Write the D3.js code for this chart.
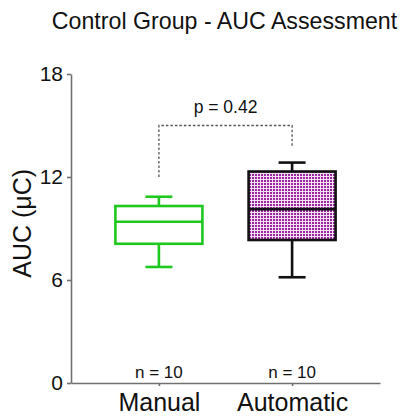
<!DOCTYPE html>
<html>
<head>
<meta charset="utf-8">
<script src="https://cdn.jsdelivr.net/npm/d3@7"></script>
<style>
  html, body { margin: 0; padding: 0; background: #fff; }
  svg { display: block; font-family: Arial, "Liberation Sans", sans-serif; }
</style>
</head>
<body>
<svg id="chart" width="403" height="417"></svg>
<script>
// Groups and their five-number summaries (min, Q1, median, Q3, max), in µC
const groups = ["Manual", "Automatic"];
const minVals = [6.76, 6.16];
const q1Vals = [8.11, 8.33];
const medianVals = [9.39, 10.13];
const q3Vals = [10.31, 12.32];
const maxVals = [10.85, 12.84];
const nLabels = ["n = 10", "n = 10"];
const yTicks = [0, 6, 12, 18];
const pLabel = "p = 0.42";
// comparison bracket: top level and the two leg ends
const bracketTop = 15.0;
const bracketLegs = [12.0, 13.76];
const pLabelY = 15.75;

const svg = d3.select("#chart");
const W = 403, H = 417;
const margin = { left: 71, right: 23, top: 74, bottom: 34 };

const y = d3.scaleLinear().domain([0, 18]).range([H - margin.bottom, margin.top]);
const x = d3.scalePoint().domain(groups).range([margin.left, W - margin.right]).padding(0.66);

// checkered fill for the second box
const defs = svg.append("defs");
const pat = defs.append("pattern")
  .attr("id", "checker").attr("patternUnits", "userSpaceOnUse")
  .attr("width", 3).attr("height", 3);
pat.append("rect").attr("width", 3).attr("height", 3).attr("fill", "#f4e2f4");
pat.append("rect").attr("width", 2).attr("height", 2).attr("fill", "#9a269f");

// title
svg.append("text")
  .attr("x", 224.5).attr("y", 29)
  .attr("text-anchor", "middle")
  .attr("font-size", 23.2).attr("fill", "#111")
  .text("Control Group - AUC Assessment");

// y axis
const yAxis = svg.append("g")
  .attr("transform", `translate(${margin.left},0)`)
  .call(d3.axisLeft(y).tickValues(yTicks).tickSize(4).tickSizeOuter(0).tickPadding(4));
yAxis.selectAll("path, line").attr("stroke", "#707070").attr("stroke-width", 1.6);
yAxis.selectAll("text").attr("font-size", 21).attr("fill", "#111").attr("font-family", "Arial, 'Liberation Sans', sans-serif");

// x axis
const xAxis = svg.append("g")
  .attr("transform", `translate(0,${y(0)})`)
  .call(d3.axisBottom(x).tickSize(3).tickSizeOuter(0).tickPadding(7));
xAxis.selectAll("path, line").attr("stroke", "#707070").attr("stroke-width", 1.6);
xAxis.selectAll("text").attr("font-size", 25).attr("fill", "#111").attr("font-family", "Arial, 'Liberation Sans', sans-serif");

// y axis title
svg.append("text")
  .attr("transform", `translate(31,${y(9.3)}) rotate(-90)`)
  .attr("text-anchor", "middle")
  .attr("font-size", 25).attr("fill", "#111")
  .text("AUC (\u03BCC)");

// box plots
const boxW = 87, capW = 27;
const strokes = ["#1ec81e", "#111"];
const fills = ["#fff", "url(#checker)"];

groups.forEach((g, i) => {
  const cx = x(g);
  const grp = svg.append("g");
  const sc = strokes[i];
  const sw = 2.6;
  // whiskers
  grp.append("line").attr("x1", cx).attr("x2", cx).attr("y1", y(maxVals[i])).attr("y2", y(q3Vals[i]))
    .attr("stroke", sc).attr("stroke-width", sw);
  grp.append("line").attr("x1", cx).attr("x2", cx).attr("y1", y(q1Vals[i])).attr("y2", y(minVals[i]))
    .attr("stroke", sc).attr("stroke-width", sw);
  // caps
  [maxVals[i], minVals[i]].forEach(v => {
    grp.append("line").attr("x1", cx - capW / 2).attr("x2", cx + capW / 2)
      .attr("y1", y(v)).attr("y2", y(v))
      .attr("stroke", sc).attr("stroke-width", sw);
  });
  // box
  grp.append("rect")
    .attr("x", cx - boxW / 2).attr("width", boxW)
    .attr("y", y(q3Vals[i])).attr("height", y(q1Vals[i]) - y(q3Vals[i]))
    .attr("fill", fills[i]).attr("stroke", sc).attr("stroke-width", sw);
  // median
  grp.append("line").attr("x1", cx - boxW / 2).attr("x2", cx + boxW / 2)
    .attr("y1", y(medianVals[i])).attr("y2", y(medianVals[i]))
    .attr("stroke", sc).attr("stroke-width", sw);
  // sample size
  svg.append("text")
    .attr("x", cx).attr("y", 378)
    .attr("text-anchor", "middle").attr("font-size", 17).attr("fill", "#111")
    .text(nLabels[i]);
});

// significance bracket
const bx0 = x(groups[0]), bx1 = x(groups[1]);
svg.append("path")
  .attr("d", `M${bx0},${y(bracketLegs[0])}V${y(bracketTop)}H${bx1}V${y(bracketLegs[1])}`)
  .attr("fill", "none").attr("stroke", "#555").attr("stroke-width", 1.3)
  .attr("stroke-dasharray", "2.5,2");
svg.append("text")
  .attr("x", (bx0 + bx1) / 2).attr("y", y(pLabelY))
  .attr("text-anchor", "middle").attr("font-size", 17.5).attr("fill", "#111")
  .text(pLabel);
</script>
</body>
</html>
